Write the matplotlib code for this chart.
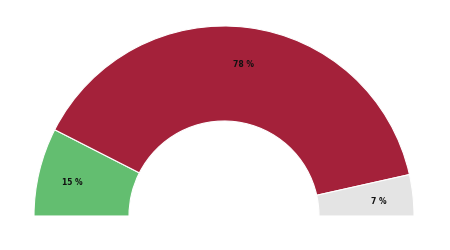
import matplotlib
matplotlib.use('Agg')
import matplotlib.pyplot as plt
import numpy as np

labels = ['Green', 'Red', 'Gray']
values = [15, 78, 7]
colors = ['#63BE70', '#A4213A', '#E4E4E4']

fig = plt.figure(figsize=(4.5, 2.5), dpi=100)
# center at (224, 34) px from bottom-left, outer radius 190 px
ax = fig.add_axes([34 / 450, 34 / 250, 380 / 450, 190 / 250])

# a hidden wedge fills the lower half so the visible part is a semicircle
wedges, texts = ax.pie(
    values + [sum(values)],
    colors=colors + ['none'],
    startangle=180,
    counterclock=False,
    radius=1.0,
    wedgeprops=dict(width=0.5, edgecolor='white', linewidth=0.8),
)
wedges[-1].set_edgecolor('none')

# percent labels near the outer part of each wedge
for w, v in zip(wedges[:-1], values):
    ang = np.deg2rad((w.theta1 + w.theta2) / 2)
    ax.text(0.82 * np.cos(ang), 0.82 * np.sin(ang) - 0.016, f'{v} %',
            ha='center', va='center', fontsize=5.5, fontweight='bold', color='#111111')

ax.set_xlim(-1, 1)
ax.set_ylim(0, 1)
ax.set_aspect('auto')
ax.axis('off')

fig.savefig('out.png', dpi=100)
